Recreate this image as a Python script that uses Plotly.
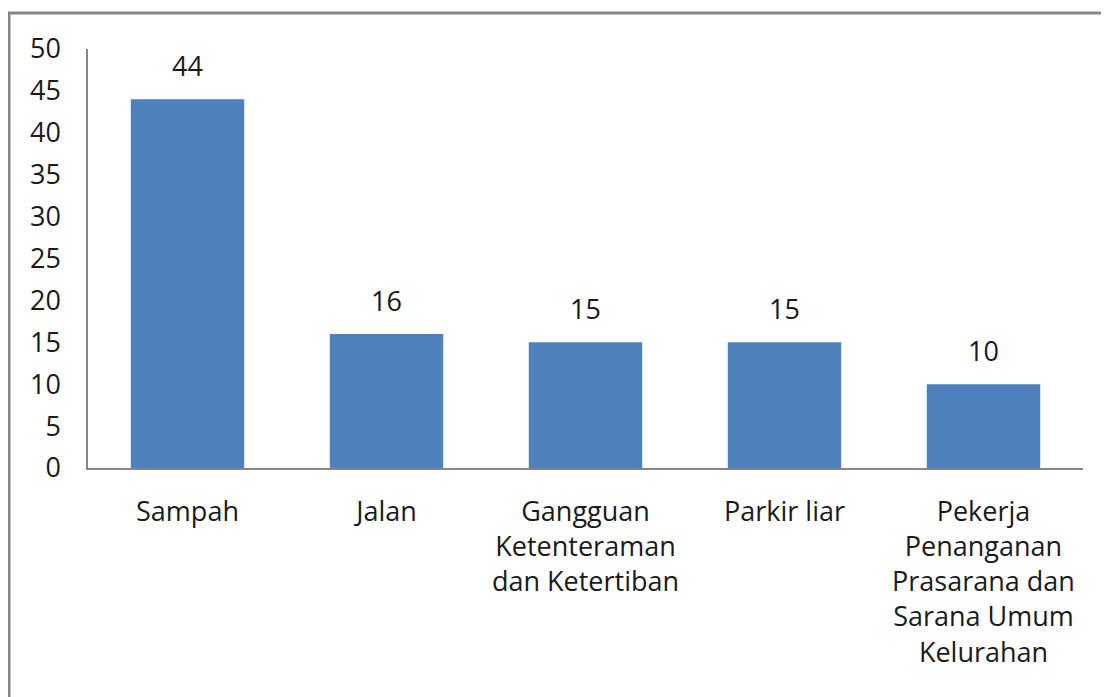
import plotly.graph_objects as go

categories = [
    "Sampah",
    "Jalan",
    "Gangguan<br>Ketenteraman<br>dan Ketertiban",
    "Parkir liar",
    "Pekerja<br>Penanganan<br>Prasarana dan<br>Sarana Umum<br>Kelurahan",
]
values = [44, 16, 15, 15, 10]
y_ticks = [0, 5, 10, 15, 20, 25, 30, 35, 40, 45, 50]

FONT = "Open Sans"
TXT = "#1a1a1a"
FS = 27

fig = go.Figure()
fig.add_trace(go.Bar(
    x=categories, y=values,
    marker=dict(color="#4f81bd", line=dict(width=0)),
    width=0.57,
    hoverinfo="skip",
))

for c, v in zip(categories, values):
    fig.add_annotation(x=c, y=v, text=str(v), showarrow=False,
                       yanchor="bottom", yshift=13,
                       font=dict(family=FONT, size=FS, color=TXT))

# page body has an 8px margin; compensate
OFF = 8
L, R, T, B = 88 - OFF, 26, 49 - OFF, 229
W, H = 1109 - OFF, 697 - OFF
pw, ph = W - L - R, H - T - B
fig.add_shape(type="rect", xref="paper", yref="paper",
              x0=(9 - OFF - L) / pw, x1=(W + 20 - L) / pw,
              y0=-(B + 20) / ph, y1=(H - B - (13 - OFF)) / ph,
              line=dict(color="#868686", width=3), layer="below")

fig.update_layout(
    width=W, height=H,
    margin=dict(l=L, r=R, t=T, b=B),
    paper_bgcolor="white", plot_bgcolor="white",
    showlegend=False,
    font=dict(family=FONT, size=FS, color=TXT),
)
fig.update_xaxes(
    showline=True, linecolor="#868686", linewidth=1.5,
    showgrid=False, ticks="", tickangle=0,
    tickfont=dict(family=FONT, size=FS, color=TXT),
    ticklabelstandoff=19,
)
fig.update_yaxes(
    range=[0, 50], tickvals=y_ticks,
    showline=True, linecolor="#868686", linewidth=1.5,
    showgrid=False, zeroline=False, ticks="",
    tickfont=dict(family=FONT, size=FS, color=TXT),
    ticklabelstandoff=20,
)

fig.write_html("out.html")
